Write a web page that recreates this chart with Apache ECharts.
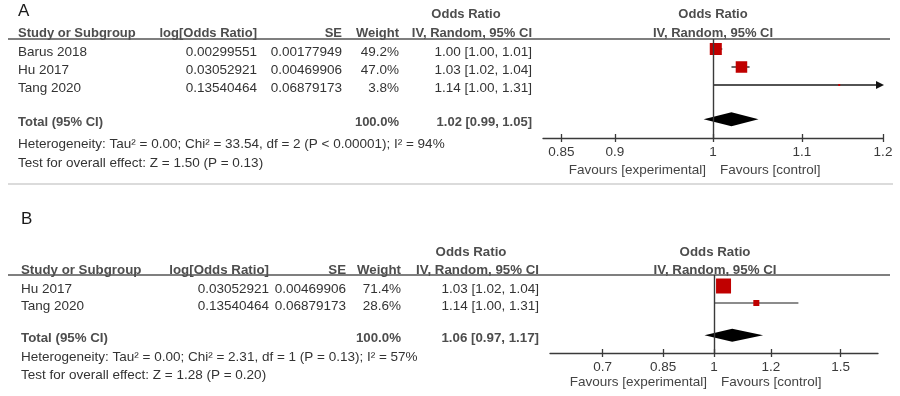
<!DOCTYPE html>
<html>
<head>
<meta charset="utf-8">
<script src="https://cdn.jsdelivr.net/npm/echarts@6/dist/echarts.min.js"></script>
<style>
  html, body { margin: 0; background: #fff; }
  #chart { width: 900px; height: 396px; }
</style>
</head>
<body>
<div id="chart"></div>
<script>
// ---- panel A data ----
const studiesA = ['Barus 2018', 'Hu 2017', 'Tang 2020'];
const logOrA = [0.00299551, 0.03052921, 0.13540464];
const seA = [0.00177949, 0.00469906, 0.06879173];
const weightA = [49.2, 47.0, 3.8];
const orA = [1.00, 1.03, 1.14];
const ciLowA = [1.00, 1.02, 1.00];
const ciHighA = [1.01, 1.04, 1.31];
const totalA = [1.02, 0.99, 1.05];
const hetA = 'Heterogeneity: Tau² = 0.00; Chi² = 33.54, df = 2 (P < 0.00001); I² = 94%';
const testA = 'Test for overall effect: Z = 1.50 (P = 0.13)';
const ticksA = [0.85, 0.9, 1, 1.1, 1.2];

// ---- panel B data ----
const studiesB = ['Hu 2017', 'Tang 2020'];
const logOrB = [0.03052921, 0.13540464];
const seB = [0.00469906, 0.06879173];
const weightB = [71.4, 28.6];
const orB = [1.03, 1.14];
const ciLowB = [1.02, 1.00];
const ciHighB = [1.04, 1.31];
const totalB = [1.06, 0.97, 1.17];
const hetB = 'Heterogeneity: Tau² = 0.00; Chi² = 2.31, df = 1 (P = 0.13); I² = 57%';
const testB = 'Test for overall effect: Z = 1.28 (P = 0.20)';
const ticksB = [0.7, 0.85, 1, 1.2, 1.5];

const FONT = '"Liberation Sans", Arial, sans-serif';
const TXT = '#333';
const HDR = '#4d4d4d';

const panels = [
  {
    letter: 'A', letterX: 18, letterY: 11, letterSize: 17,
    studies: studiesA, logOr: logOrA, se: seA, weight: weightA, or: orA, lo: ciLowA, hi: ciHighA,
    total: totalA, het: hetA, test: testA, ticks: ticksA, xMax: Math.log(1.2),
    grid: { left: 543, top: 39, width: 340, height: 99 },
    rowBase: 31, pitch: 18, totalRow: 4.9, textDy: 3.5, hetY: 144, testY: 163,
    hdr1: 14, hdr2: 33, lineY: 39, lineEnd: 890, fs: 13.5, bfs: 13,
    cols: { study: 18, logOr: 257, se: 342, weight: 399, ci: 532, orHdr: 466 },
    plotHdrX: 713, tickY: 153, favY: 170, favX: 713,
    sqScale: 0.245, ciColor: '#1a1a1a', diamondH: 14
  },
  {
    letter: 'B', letterX: 21, letterY: 219, letterSize: 17,
    studies: studiesB, logOr: logOrB, se: seB, weight: weightB, or: orB, lo: ciLowB, hi: ciHighB,
    total: totalB, het: hetB, test: testB, ticks: ticksB, xMax: Math.log(1.69),
    grid: { left: 550, top: 275, width: 328, height: 78 },
    rowBase: 269, pitch: 17, totalRow: 3.9, textDy: 3.5, hetY: 357, testY: 375,
    hdr1: 252, hdr2: 270, lineY: 275, lineEnd: 890, fs: 13.5, bfs: 13.3,
    cols: { study: 21, logOr: 269, se: 346, weight: 401, ci: 539, orHdr: 471 },
    plotHdrX: 715, tickY: 366, favY: 382, favX: 714,
    sqScale: 0.21, ciColor: '#666', diamondH: 13
  }
];

const grids = [], xAxes = [], yAxes = [], series = [];

panels.forEach((p, i) => {
  grids.push(p.grid);
  const xr = { min: -p.xMax, max: p.xMax };
  const lnTicks = p.ticks.map(Math.log);
  const tickLabel = v => {
    const t = p.ticks.find(t => Math.abs(Math.log(t) - v) < 1e-6);
    return t === undefined ? '' : String(t);
  };
  // axis with labels and downward ticks
  xAxes.push({
    type: 'value', gridIndex: i, position: 'bottom', ...xr,
    splitLine: { show: false },
    axisLine: { lineStyle: { color: '#3a3a3a', width: 1.3 } },
    axisTick: { customValues: lnTicks, length: 4, lineStyle: { color: '#3a3a3a', width: 1.3 } },
    axisLabel: { customValues: lnTicks, formatter: tickLabel, margin: 7,
      color: '#3a3a3a', fontSize: p.fs, fontFamily: FONT }
  });
  // same axis again for the upward half of each tick
  xAxes.push({
    type: 'value', gridIndex: i, position: 'bottom', ...xr,
    splitLine: { show: false }, axisLine: { show: false }, axisLabel: { show: false },
    axisTick: { customValues: lnTicks, inside: true, length: 4, lineStyle: { color: '#3a3a3a', width: 1.3 } }
  });
  yAxes.push({
    type: 'value', gridIndex: i, inverse: true, show: false,
    min: (p.grid.top - p.rowBase) / p.pitch,
    max: (p.grid.top + p.grid.height - p.rowBase) / p.pitch
  });

  const studyData = p.studies.map((s, k) =>
    [p.logOr[k], Math.log(p.lo[k]), Math.log(p.hi[k]), k + 1, p.weight[k]]);

  series.push({
    type: 'custom', xAxisIndex: 2 * i, yAxisIndex: i, clip: false,
    data: studyData,
    renderItem: (params, api) => {
      const row = api.value(3);
      const [xc, y] = api.coord([api.value(0), row]);
      const xlo = api.coord([api.value(1), row])[0];
      let xhi = api.coord([api.value(2), row])[0];
      const right = params.coordSys.x + params.coordSys.width;
      const arrow = xhi > right;
      if (arrow) xhi = right - 5;
      const s = Math.max(2, api.value(4) * p.sqScale);
      const children = [
        { type: 'line', shape: { x1: xlo, y1: y, x2: xhi, y2: y },
          style: { stroke: p.ciColor, lineWidth: 1.3 } },
        { type: 'rect', shape: { x: xc - s / 2, y: y - s / 2, width: s, height: s },
          style: { fill: '#c00000' } }
      ];
      if (arrow) {
        children.push({ type: 'polygon',
          shape: { points: [[right - 7, y - 4], [right + 1, y], [right - 7, y + 4]] },
          style: { fill: '#111' } });
      }
      return { type: 'group', children };
    },
    markLine: {
      silent: true, symbol: 'none', label: { show: false },
      lineStyle: { color: '#3a3a3a', width: 1.4, type: 'solid' },
      data: [{ xAxis: 0 }]
    }
  });

  series.push({
    type: 'custom', xAxisIndex: 2 * i, yAxisIndex: i, clip: false,
    data: [[Math.log(p.total[0]), Math.log(p.total[1]), Math.log(p.total[2]), p.studies.length + 1.9]],
    renderItem: (params, api) => {
      const row = api.value(3);
      const [xc, y] = api.coord([api.value(0), row]);
      const xlo = api.coord([api.value(1), row])[0];
      const xhi = api.coord([api.value(2), row])[0];
      const h = p.diamondH / 2;
      return { type: 'polygon',
        shape: { points: [[xlo, y], [xc, y - h], [xhi, y], [xc, y + h]] },
        style: { fill: '#000' } };
    }
  });
});

const chart = echarts.init(document.getElementById('chart'), null, { renderer: 'canvas' });
chart.setOption({
  animation: false,
  grid: grids, xAxis: xAxes, yAxis: yAxes, series
});

// table text, positioned on the same row scale as the plot
const graphic = [];
const text = (x, y, t, size, align, bold, color) => graphic.push({
  type: 'text', x, y, silent: true,
  style: { text: t, fill: color || TXT, textAlign: align || 'left', textVerticalAlign: 'middle',
    font: `${bold ? 'bold ' : ''}${size}px ${FONT}` }
});

panels.forEach((p, i) => {
  const rowY = k => chart.convertToPixel({ yAxisIndex: i }, k) + p.textDy;
  const c = p.cols;
  text(p.letterX, p.letterY, p.letter, p.letterSize, 'left', false, '#1a1a1a');
  text(c.orHdr, p.hdr1, 'Odds Ratio', p.bfs, 'center', true, HDR);
  text(p.plotHdrX, p.hdr1, 'Odds Ratio', p.bfs, 'center', true, HDR);
  text(c.study, p.hdr2, 'Study or Subgroup', p.bfs, 'left', true, HDR);
  text(c.logOr, p.hdr2, 'log[Odds Ratio]', p.bfs, 'right', true, HDR);
  text(c.se, p.hdr2, 'SE', p.bfs, 'right', true, HDR);
  text(c.weight, p.hdr2, 'Weight', p.bfs, 'right', true, HDR);
  text(c.ci, p.hdr2, 'IV, Random, 95% CI', p.bfs, 'right', true, HDR);
  text(p.plotHdrX, p.hdr2, 'IV, Random, 95% CI', p.bfs, 'center', true, HDR);
  graphic.push({ type: 'line', silent: true,
    shape: { x1: 8, y1: p.lineY, x2: p.lineEnd, y2: p.lineY },
    style: { stroke: '#555', lineWidth: 1.5 } });

  p.studies.forEach((s, k) => {
    const y = rowY(k + 1);
    text(c.study, y, s, p.fs);
    text(c.logOr, y, p.logOr[k].toFixed(8), p.fs, 'right');
    text(c.se, y, p.se[k].toFixed(8), p.fs, 'right');
    text(c.weight, y, p.weight[k].toFixed(1) + '%', p.fs, 'right');
    text(c.ci, y, `${p.or[k].toFixed(2)} [${p.lo[k].toFixed(2)}, ${p.hi[k].toFixed(2)}]`, p.fs, 'right');
  });
  const ty = rowY(p.studies.length + 1.9);
  text(c.study, ty, 'Total (95% CI)', p.bfs, 'left', true, HDR);
  text(c.weight, ty, '100.0%', p.bfs, 'right', true, HDR);
  text(c.ci, ty, `${p.total[0].toFixed(2)} [${p.total[1].toFixed(2)}, ${p.total[2].toFixed(2)}]`, p.bfs, 'right', true, HDR);
  text(c.study, p.hetY, p.het, p.fs);
  text(c.study, p.testY, p.test, p.fs);
  text(p.favX - 7, p.favY, 'Favours [experimental]', p.fs, 'right', false, '#444');
  text(p.favX + 7, p.favY, 'Favours [control]', p.fs, 'left', false, '#444');
});

graphic.push({ type: 'line', silent: true,
  shape: { x1: 8, y1: 184, x2: 893, y2: 184 },
  style: { stroke: '#cfcfcf', lineWidth: 1.5 } });

chart.setOption({ graphic });
</script>
</body>
</html>
